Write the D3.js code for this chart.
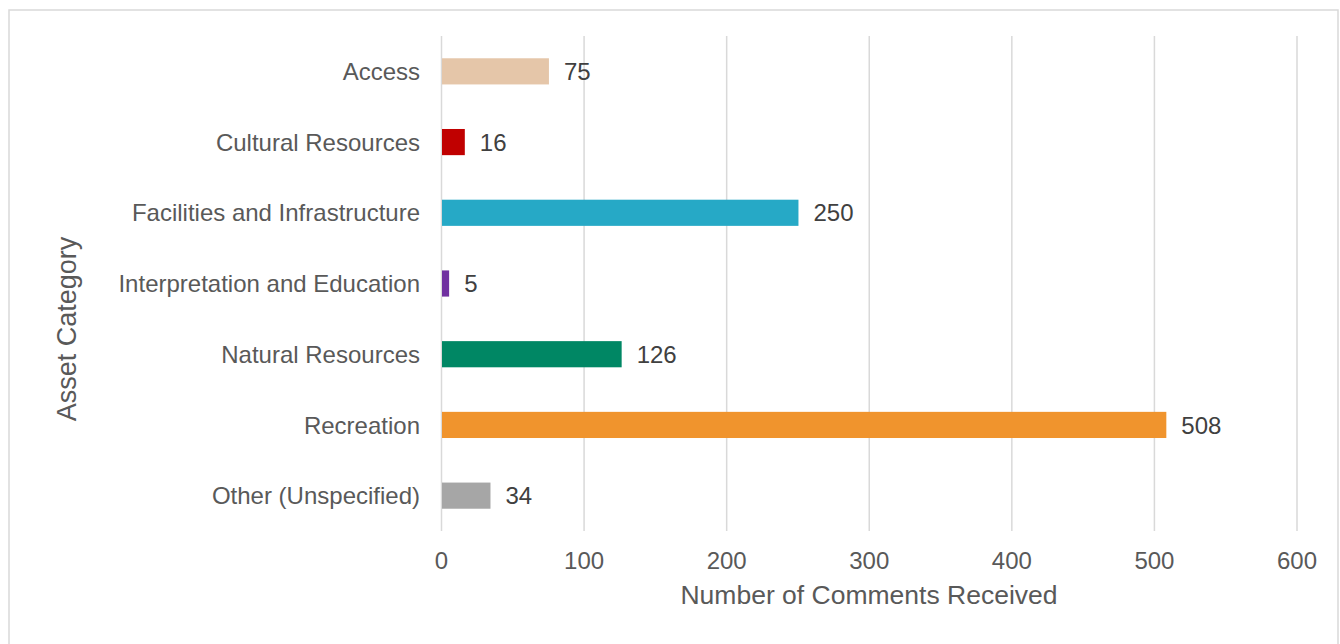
<!DOCTYPE html>
<html>
<head>
<meta charset="utf-8">
<script src="https://cdn.jsdelivr.net/npm/d3@7"></script>
<style>
  html, body { margin: 0; padding: 0; background: #fff; }
  svg { display: block; font-family: "Liberation Sans", Arial, sans-serif; }
</style>
</head>
<body>
<svg id="chart" width="1340" height="644"></svg>
<script>
// Comments received per asset category
const categories = [
  "Access",
  "Cultural Resources",
  "Facilities and Infrastructure",
  "Interpretation and Education",
  "Natural Resources",
  "Recreation",
  "Other (Unspecified)"
];
const counts = [75, 16, 250, 5, 126, 508, 34];
const barColors = ["#e5c6a9", "#c00000", "#26a9c6", "#7030a0", "#008764", "#f0942d", "#a6a6a6"];
const xTicks = [0, 100, 200, 300, 400, 500, 600];
const xTitle = "Number of Comments Received";
const yTitle = "Asset Category";

const data = categories.map((c, i) => ({ category: c, value: counts[i], color: barColors[i] }));

const svg = d3.select("#chart");

// outer frame
svg.append("rect")
  .attr("x", 9).attr("y", 10)
  .attr("width", 1329).attr("height", 650)
  .attr("fill", "#fff")
  .attr("stroke", "#d9d9d9")
  .attr("stroke-width", 1.5);

const x = d3.scaleLinear().domain([0, 600]).range([441.5, 1297]);
const y = d3.scaleBand().domain(categories).range([36, 531]).paddingInner(0.63).paddingOuter(0.315);

// vertical gridlines
svg.append("g")
  .selectAll("line")
  .data(xTicks)
  .join("line")
  .attr("x1", d => x(d)).attr("x2", d => x(d))
  .attr("y1", 36).attr("y2", 531)
  .attr("stroke", "#d9d9d9")
  .attr("stroke-width", 1.5);

// x tick labels
svg.append("g")
  .selectAll("text")
  .data(xTicks)
  .join("text")
  .attr("x", d => x(d))
  .attr("y", 569)
  .attr("text-anchor", "middle")
  .attr("font-size", 24)
  .attr("fill", "#595959")
  .text(d => d);

// bars
svg.append("g")
  .selectAll("rect")
  .data(data)
  .join("rect")
  .attr("x", x(0) + 0.5)
  .attr("y", d => y(d.category))
  .attr("width", d => x(d.value) - x(0))
  .attr("height", y.bandwidth())
  .attr("fill", d => d.color);

// value labels
svg.append("g")
  .selectAll("text")
  .data(data)
  .join("text")
  .attr("x", d => x(d.value) + 15.5)
  .attr("y", d => y(d.category) + y.bandwidth() / 2)
  .attr("dy", "0.36em")
  .attr("font-size", 24)
  .attr("fill", "#404040")
  .text(d => d.value);

// category labels
svg.append("g")
  .selectAll("text")
  .data(data)
  .join("text")
  .attr("x", 420)
  .attr("y", d => y(d.category) + y.bandwidth() / 2)
  .attr("dy", "0.36em")
  .attr("text-anchor", "end")
  .attr("font-size", 24)
  .attr("fill", "#595959")
  .text(d => d.category);

// axis titles
svg.append("text")
  .attr("x", 869)
  .attr("y", 604)
  .attr("text-anchor", "middle")
  .attr("font-size", 26.5)
  .attr("fill", "#595959")
  .text(xTitle);

svg.append("text")
  .attr("transform", "translate(76,329) rotate(-90)")
  .attr("text-anchor", "middle")
  .attr("font-size", 27)
  .attr("fill", "#595959")
  .text(yTitle);
</script>
</body>
</html>
